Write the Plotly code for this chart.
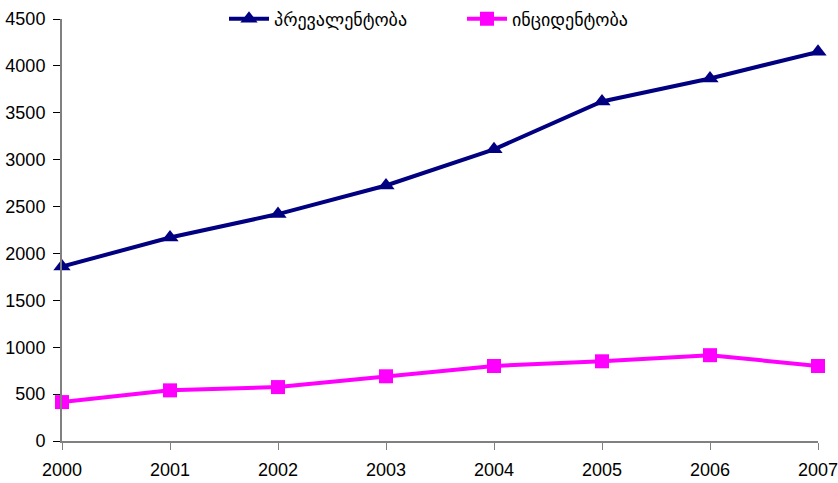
import plotly.graph_objects as go

years = [2000, 2001, 2002, 2003, 2004, 2005, 2006, 2007]
prevalence = [1860, 2170, 2420, 2725, 3110, 3620, 3865, 4150]
incidence = [415, 540, 575, 690, 800, 850, 915, 800]
series_names = ["პრევალენტობა", "ინციდენტობა"]

tick_font = dict(family="Liberation Sans Narrow, Arial Narrow, Arial", size=18, color="black")

fig = go.Figure()
fig.add_trace(go.Scatter(
    x=years, y=prevalence, name=series_names[0], mode="lines+markers",
    line=dict(color="#000080", width=4),
    marker=dict(symbol="triangle-up", size=15, color="#000080"),
    cliponaxis=False,
))
fig.add_trace(go.Scatter(
    x=years, y=incidence, name=series_names[1], mode="lines+markers",
    line=dict(color="#ff00ff", width=4),
    marker=dict(symbol="square", size=14, color="#ff00ff"),
    cliponaxis=False,
))

fig.update_layout(
    width=838, height=483,
    margin=dict(l=62, r=20, t=19, b=42, autoexpand=False),
    paper_bgcolor="white", plot_bgcolor="white",
    showlegend=True,
    legend=dict(
        orientation="h", x=(224 - 62) / 756, xanchor="left",
        yref="container", y=1 - 19 / 483, yanchor="middle",
        font=dict(family="DejaVu Sans", size=18, color="black"),
        entrywidth=183, entrywidthmode="pixels",
        itemwidth=40, bgcolor="rgba(0,0,0,0)",
    ),
    xaxis=dict(
        range=[2000, 2007], tickvals=years, ticktext=[str(y) for y in years],
        showgrid=False, zeroline=False, showline=True, linecolor="#808080", linewidth=2,
        ticks="outside", ticklen=7, tickcolor="#808080", tickwidth=1,
        tickfont=tick_font, ticklabelstandoff=4, ticklabeloverflow="allow",
    ),
    yaxis=dict(
        range=[0, 4500], dtick=500, showgrid=False, zeroline=False,
        showline=True, linecolor="#808080", linewidth=2,
        ticks="outside", ticklen=7, tickcolor="black", tickwidth=1,
        tickfont=tick_font, ticklabelstandoff=4, ticklabeloverflow="allow",
    ),
)

fig.write_html("out.html")
